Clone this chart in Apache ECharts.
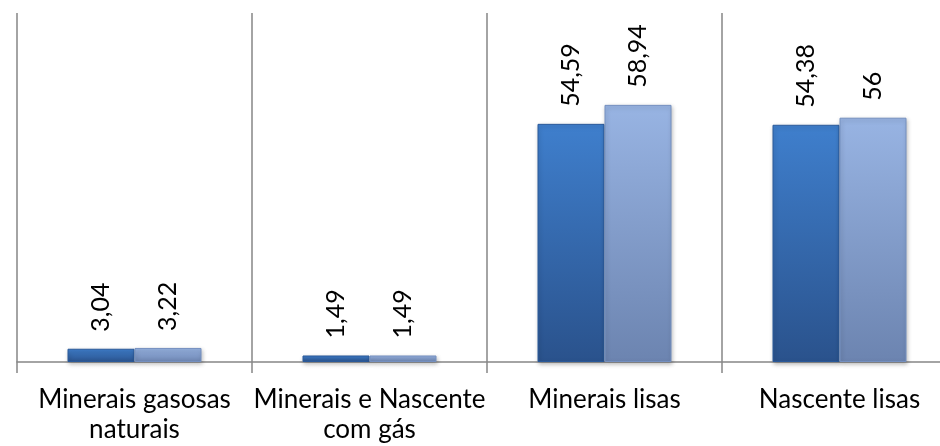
<!DOCTYPE html>
<html>
<head>
<meta charset="utf-8">
<script src="https://cdn.jsdelivr.net/npm/echarts@6/dist/echarts.min.js"></script>
<style>
  html, body { margin: 0; padding: 0; background: #fff; }
  #main { width: 940px; height: 446px; }
</style>
</head>
<body>
<div id="main"></div>
<script>
const categories = ['Minerais gasosas\nnaturais', 'Minerais e Nascente\ncom gás', 'Minerais lisas', 'Nascente lisas']
const seriesA = [3.04, 1.49, 54.59, 54.38]
const seriesB = [3.22, 1.49, 58.94, 56]

const fmt = p => String(p.value).replace('.', ',')

function grad (top, bottom) {
    return new echarts.graphic.LinearGradient(0, 0, 0, 1, [
        { offset: 0, color: top },
        { offset: 1, color: bottom },
    ])
}

const labelStyle = {
    show: true,
    position: 'top',
    rotate: 90,
    align: 'left',
    verticalAlign: 'middle',
    distance: 17,
    fontFamily: 'Lato',
    fontSize: 25,
    color: '#000',
    formatter: fmt,
}

const chart = echarts.init(document.getElementById('main'))
chart.setOption({
    backgroundColor: '#fff',
    animation: false,
    grid: { left: 17, top: 13, width: 940, height: 349, outerBoundsMode: 'none' },
    xAxis: {
        type: 'category',
        data: categories,
        axisLine: { lineStyle: { color: '#868686', width: 1.5 } },
        axisTick: { show: true, length: 11, lineStyle: { color: '#868686', width: 1.5 } },
        splitLine: { show: true, lineStyle: { color: '#868686', width: 1.5 } },
        axisLabel: {
            margin: 23,
            fontFamily: 'Lato',
            fontSize: 26,
            lineHeight: 30,
            color: '#000',
            interval: 0,
        },
    },
    yAxis: {
        type: 'value',
        min: 0,
        max: 80,
        show: false,
        splitLine: { show: false },
    },
    series: [
        {
            type: 'bar',
            data: seriesA,
            barWidth: 67,
            barGap: '0%',
            itemStyle: {
                color: grad('#3f7fcd', '#2a528c'),
                borderColor: '#2b5a9a',
                borderWidth: 1,
                shadowColor: 'rgba(0,0,0,0.25)',
                shadowBlur: 4,
                shadowOffsetX: 1,
                shadowOffsetY: 2,
            },
            label: labelStyle,
        },
        {
            type: 'bar',
            data: seriesB,
            barWidth: 67,
            itemStyle: {
                color: grad('#98b4e3', '#6c84b0'),
                borderColor: '#7590c0',
                borderWidth: 1,
                shadowColor: 'rgba(0,0,0,0.25)',
                shadowBlur: 4,
                shadowOffsetX: 1,
                shadowOffsetY: 2,
            },
            label: labelStyle,
        },
    ],
})
</script>
</body>
</html>
